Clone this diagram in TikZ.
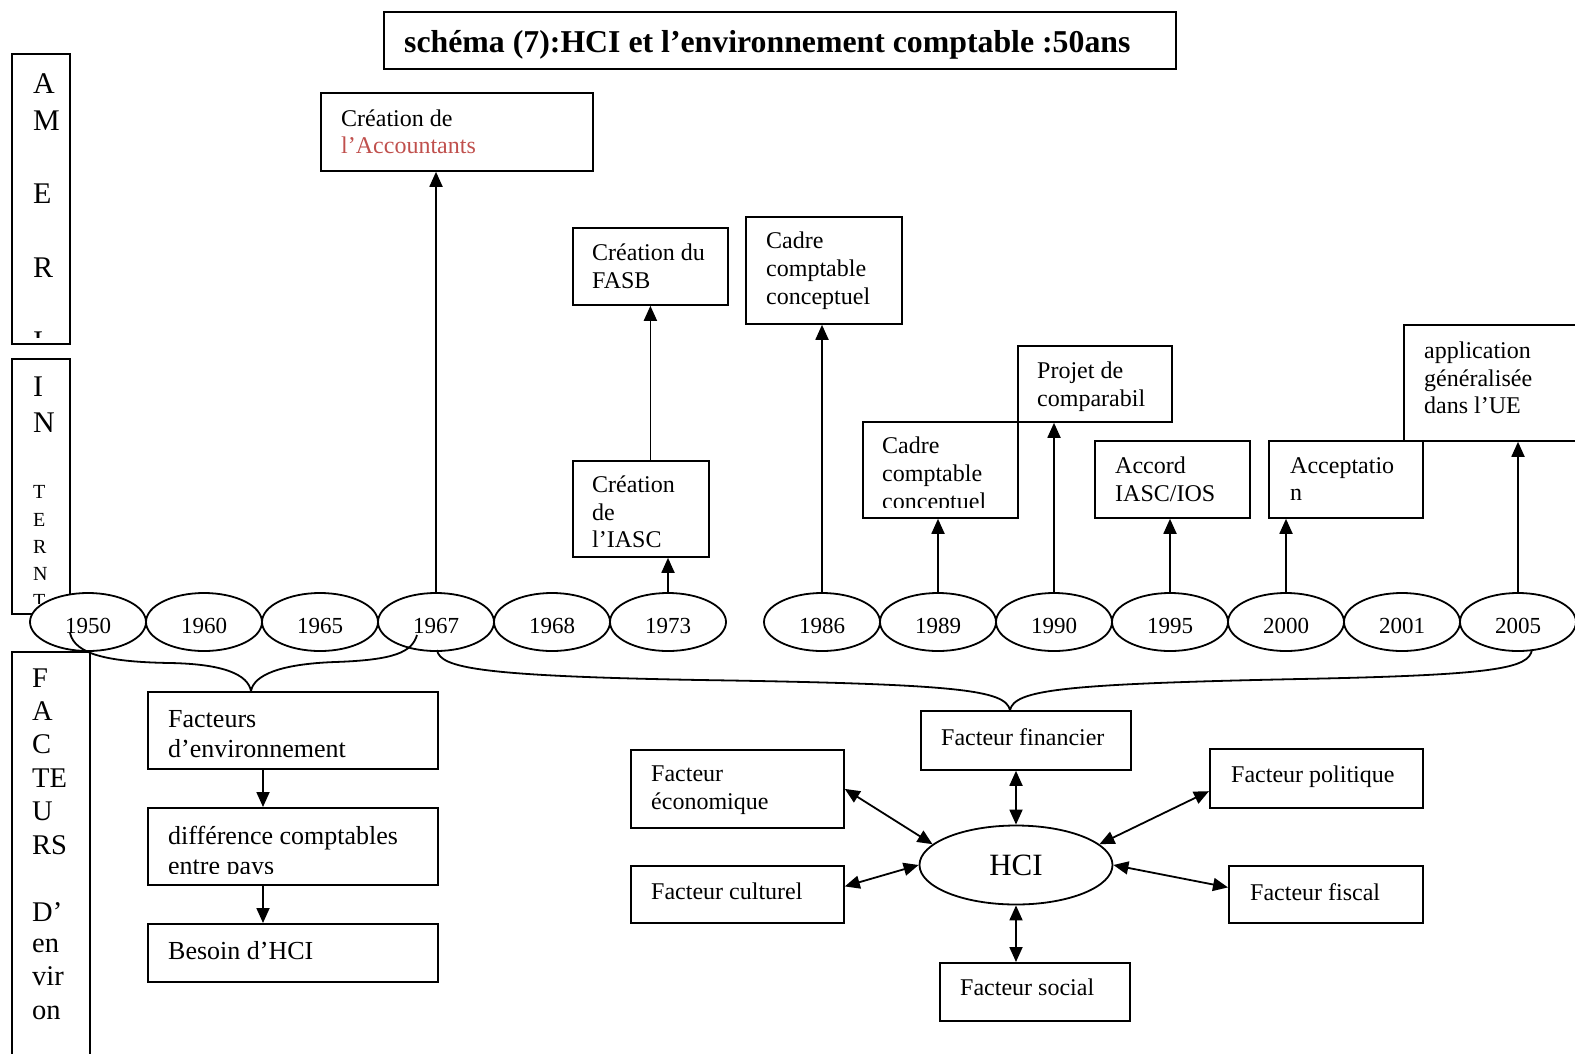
\documentclass[tikz,border=0pt]{standalone}
\usepackage{fontspec}
\setmainfont{Liberation Serif}
\usetikzlibrary{arrows.meta,shapes.geometric,calc}
\definecolor{accred}{RGB}{192,80,77}
\tikzset{
 box/.style={draw, line width=1.8pt, anchor=north west, inner sep=0pt},
 txt/.style={anchor=north west, align=left, inner sep=0pt, font=\fontsize{24}{27.5}\selectfont},
 ltxt/.style={anchor=north west, align=left, inner sep=0pt, font=\fontsize{26}{30}\selectfont},
 year/.style={draw, ellipse, fill=white, line width=1.8pt, minimum width=116pt, minimum height=58pt, inner sep=0pt},
 ytxt/.style={inner sep=0pt, font=\fontsize{23}{23}\selectfont},
 arr/.style={line width=1.8pt, -{Triangle[length=15pt,width=13pt]}},
 darr/.style={line width=1.8pt, {Triangle[length=15pt,width=13pt]}-{Triangle[length=15pt,width=13pt]}},
 brace/.style={line width=1.8pt},
 vbig/.style={anchor=base west, inner sep=0pt, font=\fontsize{30}{30}\selectfont},
 vsmall/.style={anchor=base west, inner sep=0pt, font=\fontsize{20}{20}\selectfont},
 vfac/.style={anchor=base west, inner sep=0pt, font=\fontsize{28.5}{28.5}\selectfont},
}
\begin{document}
\begin{tikzpicture}[x=1pt,y=-1pt]
\useasboundingbox (0,0) rectangle (1575,1053);

% title
\node[box, minimum width=792pt, minimum height=57pt] (title) at (383,11) {};
\node[anchor=base west, inner sep=0pt, font=\fontsize{31.8}{32}\selectfont\bfseries] (title-t) at (404,52) {schéma (7):HCI et l’environnement comptable :50ans};

% left vertical boxes
\node[box, minimum width=58pt, minimum height=290pt] (amer) at (11,53) {};
\begin{scope}
\clip (11,53) rectangle (69,337);
\foreach \t/\b in {A/93, M/130, E/203, R/277, I/351} \node[vbig] (am\b) at (33,\b) {\t};
\end{scope}
\node[box, minimum width=58pt, minimum height=255pt] (intl) at (11,358) {};
\begin{scope}
\clip (11,358) rectangle (69,603);
\foreach \t/\b in {I/396, N/432} \node[vbig] (in\b) at (33,\b) {\t};
\foreach \t/\b in {T/498, E/526, R/553, N/580, T/607} \node[vsmall] (in\b) at (33,\b) {\t};
\end{scope}
\node[box, minimum width=78pt, minimum height=420pt] (fact) at (11,651) {};
\foreach \t/\b in {F/687.5, A/720.5, C/753.5, TE/787.5, U/820.5, RS/854.5, D’/921.5, en/952, vir/985.5, on/1019.5} \node[vfac] (fa\b) at (32,\b) {\t};

% top boxes
\node[box, minimum width=272pt, minimum height=78pt] (acc) at (320,92) {};
\node[txt] (acc-t) at (341,109.5) {Création de\\\textcolor{accred}{l’Accountants}};
\node[box, minimum width=155pt, minimum height=77pt] (fasb) at (572,227) {};
\node[txt] (fasb-t) at (592,244) {Création du\\FASB};
\node[box, minimum width=136pt, minimum height=96pt] (iasc) at (572,460) {};
\node[txt] (iasc-t) at (592,476) {Création\\de\\l’IASC};
\node[box, minimum width=156pt, minimum height=107pt] (cad1) at (745,216) {};
\node[txt, font=\fontsize{24}{28}\selectfont] (cad1-t) at (766,232) {Cadre\\comptable\\conceptuel};
\node[box, minimum width=155pt, minimum height=96pt] (cad2) at (862,421) {};
\begin{scope}
\clip (862,421) rectangle (1017,507);
\node[txt, font=\fontsize{24}{28}\selectfont] (cad2-t) at (882,437) {Cadre\\comptable\\conceptuel};
\end{scope}
\node[box, minimum width=154pt, minimum height=76pt] (proj) at (1017,345) {};
\node[txt] (proj-t) at (1037,362) {Projet de\\comparabil};
\node[box, minimum width=155pt, minimum height=77pt] (accord) at (1094,440) {};
\node[txt] (accord-t) at (1115,457) {Accord\\IASC/IOS};
\node[box, minimum width=154pt, minimum height=77pt] (accept) at (1268,440) {};
\node[txt] (accept-t) at (1290,457) {Acceptatio\\n};
\node[box, minimum width=190pt, minimum height=116pt] (appl) at (1403,324) {};
\node[txt] (appl-t) at (1424,342) {application\\généralisée\\dans l’UE};

% years
\foreach \yr/\x in {1950/88, 1960/204, 1965/320, 1967/436, 1968/552, 1973/668, 1986/822, 1989/938, 1990/1054, 1995/1170, 2000/1286, 2001/1402, 2005/1518}{
  \node[year] (y\yr) at (\x,622) {};
  \node[ytxt] (t\yr) at (\x,626) {\yr};
}

% arrows up
\draw[arr] (y1967.north) -- (y1967.north |- acc.south);
\draw[arr] (y1973.north) -- (y1973.north |- iasc.south);
\draw[arr] (fasb.south |- iasc.north) -- (fasb.south);
\draw[arr] (y1986.north) -- (y1986.north |- cad1.south);
\draw[arr] (y1989.north) -- (y1989.north |- cad2.south);
\draw[arr] (y1990.north) -- (y1990.north |- proj.south);
\draw[arr] (y1995.north) -- (y1995.north |- accord.south);
\draw[arr] (y2000.north) -- (y2000.north |- accept.south);
\draw[arr] (y2005.north) -- (y2005.north |- appl.south);

% lower left chain
\node[box, minimum width=290pt, minimum height=77pt] (env) at (147,691) {};
\node[ltxt] (env-t) at (168,710) {Facteurs\\d’environnement};
\node[box, minimum width=290pt, minimum height=77pt] (diff) at (147,807) {};
\begin{scope}
\clip (147,807) rectangle (437,873);
\node[ltxt] (diff-t) at (168,826) {différence comptables\\entre pays};
\end{scope}
\node[box, minimum width=290pt, minimum height=58pt] (bes) at (147,923) {};
\node[ltxt] (bes-t) at (168,941) {Besoin d’HCI};
\coordinate (ax) at (263,0);
\draw[arr] (ax |- env.south) -- (ax |- diff.north);
\draw[arr] (ax |- diff.south) -- (ax |- bes.north);

% braces
\coordinate (b1l) at (70,633);
\coordinate (b1r) at (417,635);
\draw[brace] (b1l) .. controls (75,655) and (110,662) .. (170,663) .. controls (225,664) and (248,675) .. (env.north -| 251,0);
\draw[brace] (env.north -| 251,0) .. controls (254,675) and (280,664) .. (335,662) .. controls (395,660) and (412,652) .. (b1r);

% right cluster
\node[box, minimum width=210pt, minimum height=59pt] (fin) at (920,710) {};
\node[txt] (fin-t) at (941,728) {Facteur financier};
\node[box, minimum width=213pt, minimum height=78pt] (eco) at (630,749) {};
\node[txt] (eco-t) at (651,766) {Facteur\\économique};
\node[box, minimum width=213pt, minimum height=59pt] (pol) at (1209,748) {};
\node[txt] (pol-t) at (1231,766) {Facteur politique};
\node[box, minimum width=213pt, minimum height=57pt] (cul) at (630,865) {};
\node[txt] (cul-t) at (651,883) {Facteur culturel};
\node[box, minimum width=194pt, minimum height=57pt] (fis) at (1228,865) {};
\node[txt] (fis-t) at (1250,883) {Facteur fiscal};
\node[box, minimum width=190pt, minimum height=58pt] (soc) at (939,962) {};
\node[txt] (soc-t) at (960,979) {Facteur social};
\node[draw, ellipse, line width=1.8pt, minimum width=193pt, minimum height=79pt, inner sep=0pt, font=\fontsize{31}{31}\selectfont] (hci) at (1016,865) {HCI};

\coordinate (b2l) at (437,650);
\coordinate (b2r) at (1532,650);
\draw[brace] (b2l) .. controls (440,668) and (480,676) .. (700,680) .. controls (960,684) and (1005,690) .. (fin.north -| 1010,0);
\draw[brace] (fin.north -| 1010,0) .. controls (1015,690) and (1060,684) .. (1300,679) .. controls (1500,675) and (1528,668) .. (b2r);

\draw[darr] (hci.north |- fin.south) -- (hci.north);
\draw[darr] (hci.south) -- (hci.south |- soc.north);
\draw[darr] (eco.east) -- (hci.166);
\draw[darr] ($(pol.south west)!0.29!(pol.north west)$) -- (hci.14);
\draw[darr] ($(cul.east)+(0,-8)$) -- (hci.west);
\draw[darr] ($(fis.west)+(0,-7)$) -- (hci.east);
\end{tikzpicture}
\end{document}
